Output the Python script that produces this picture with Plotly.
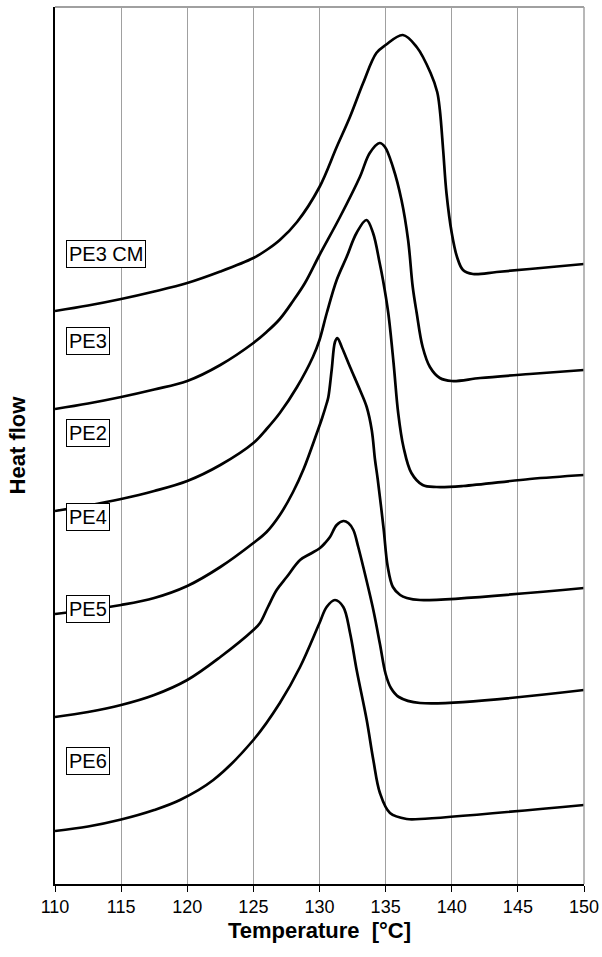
import plotly.graph_objects as go

# Temperature [°C] and heat flow (arbitrary units)
T_PE3CM = [110, 112.5, 115, 117.5, 120, 122.5, 125, 126, 127, 128.3, 130, 131.3, 132.3, 133.3, 134.3, 135.0,
           136.3, 137.35, 138.4, 138.9, 139.1, 139.35, 139.6, 140.0, 140.4, 140.85, 141.6, 143.4, 145.9, 150]
HF_PE3CM = [57.3, 57.85, 58.5, 59.25, 60.1, 61.25, 62.6, 63.4, 64.4, 66.2, 69.7, 73.7, 76.7, 80.1, 83.1, 83.9,
            84.9, 83.7, 81.1, 79.2, 77.4, 73.4, 69.1, 65.1, 62.7, 61.4, 61.0, 61.2, 61.5, 62.0]

T_PE3 = [110, 112.5, 115, 117.5, 120, 122.5, 125, 126, 127, 128, 128.9, 130, 131.55, 133.05, 133.8, 134.55,
         134.95, 135.55, 136.2, 136.7, 137.05, 137.35, 137.8, 138.35, 139.1, 140.0, 142.15, 145.9, 150]
HF_PE3 = [47.5, 48.05, 48.7, 49.45, 50.3, 51.9, 54.1, 55.2, 56.5, 58.3, 60.1, 62.9, 66.7, 70.7, 73.1, 74.1,
          73.7, 71.7, 68.4, 64.4, 59.7, 57.1, 53.7, 51.7, 50.6, 50.3, 50.6, 51.0, 51.4]

T_PE2 = [110, 112.5, 115, 117.5, 120, 122.5, 125, 126, 127, 128.3, 129.5, 130, 130.55, 131.3, 132.05, 132.8,
         133.55, 134.05, 134.55, 134.8, 135.2, 135.6, 135.95, 136.35, 136.95, 137.8, 138.85, 140.85, 145.9, 150]
HF_PE2 = [37.3, 37.85, 38.5, 39.3, 40.3, 41.9, 44.1, 45.5, 47.1, 49.7, 52.7, 54.4, 57.1, 60.4, 62.7, 65.1,
          66.4, 65.1, 62.1, 60.4, 57.1, 52.1, 47.1, 43.7, 41.1, 39.9, 39.7, 39.8, 40.5, 40.9]

T_PE4 = [110, 112.5, 115, 117.5, 120, 122.5, 125, 126, 127, 128, 128.8, 129.8, 130.2, 130.55, 130.67, 130.92,
         131.17, 131.35, 131.68, 132.31, 133.06, 133.57, 133.95, 134.2, 134.4, 134.85, 135.15, 135.55, 136.1,
         136.6, 137.6, 150]
HF_PE4 = [27.0, 27.4, 27.9, 28.6, 29.8, 31.7, 34.1, 35.2, 36.9, 39.2, 41.5, 45.1, 46.6, 48.1, 48.7, 51.4,
          54.2, 54.6, 53.7, 51.7, 49.4, 47.7, 45.4, 42.4, 40.5, 35.5, 31.8, 29.7, 28.9,
          28.6, 28.4, 29.6]

T_PE5 = [110, 112.5, 115, 117.5, 120, 122.5, 125, 125.5, 126.1, 126.76, 127.52, 128.53, 129.28, 130.04, 130.42,
         130.79, 131.3, 131.8, 132.18, 132.56, 132.93, 133.31, 134.07, 134.57, 135.0, 135.4, 136.0, 137.6, 150]
HF_PE5 = [16.7, 17.2, 17.9, 18.9, 20.4, 22.7, 25.4, 26.1, 27.7, 29.4, 30.7, 32.4, 33.0, 33.6, 34.1,
          34.7, 35.9, 36.3, 36.1, 35.4, 33.7, 31.7, 27.4, 24.0, 21.0, 19.6, 18.7, 18.1, 19.4]

T_PE6 = [110, 112.5, 115, 117.5, 119.45, 121.97, 125, 127, 128.53, 130, 130.54, 131.17, 131.8, 132.31,
         132.81, 133.57, 134.07, 134.57, 135.33, 136.6, 137.6, 150]
HF_PE6 = [5.3, 5.75, 6.45, 7.4, 8.4, 10.4, 14.4, 18.1, 21.7, 26.1, 27.7, 28.4, 27.7, 25.1,
          21.4, 16.4, 12.4, 9.1, 7.1, 6.5, 6.5, 7.9]

series = [("PE3 CM", T_PE3CM, HF_PE3CM), ("PE3", T_PE3, HF_PE3), ("PE2", T_PE2, HF_PE2),
          ("PE4", T_PE4, HF_PE4), ("PE5", T_PE5, HF_PE5), ("PE6", T_PE6, HF_PE6)]

label_names = ["PE3 CM", "PE3", "PE2", "PE4", "PE5", "PE6"]
label_y = [63.05, 54.3, 45.1, 36.7, 27.5, 12.3]

x_ticks = [110, 115, 120, 125, 130, 135, 140, 145, 150]

FONT = "Liberation Sans, Arial, sans-serif"

fig = go.Figure()
for name, t, hf in series:
    fig.add_trace(go.Scatter(x=t, y=hf, mode="lines", name=name,
                             line=dict(color="black", width=2.7, shape="spline", smoothing=1.0),
                             showlegend=False, hoverinfo="skip"))

for name, yy in zip(label_names, label_y):
    fig.add_annotation(x=110.85, y=yy, xref="x", yref="y", text=name, showarrow=False,
                       xanchor="left", yanchor="middle",
                       font=dict(family=FONT, size=20, color="black"),
                       bgcolor="white", bordercolor="black", borderwidth=1, borderpad=2)

# top and right frame (gray)
fig.add_shape(type="line", xref="paper", yref="paper", x0=0, x1=1, y0=1, y1=1,
              line=dict(color="#a0a0a0", width=2))
fig.add_shape(type="line", xref="paper", yref="paper", x0=1, x1=1, y0=0, y1=1,
              line=dict(color="#a0a0a0", width=1.5))

fig.update_layout(
    width=602, height=957,
    margin=dict(l=55, r=18, t=7, b=73, autoexpand=False),
    paper_bgcolor="white", plot_bgcolor="white",
    font=dict(family=FONT, color="black"),
)
fig.update_xaxes(range=[110, 150], tickvals=x_ticks, ticktext=[str(v) for v in x_ticks],
                 showgrid=True, gridcolor="#a0a0a0", gridwidth=1,
                 showline=True, linecolor="black", linewidth=1.5,
                 ticks="outside", ticklen=6, tickcolor="black", tickwidth=1,
                 tickfont=dict(family=FONT, size=18, color="black"),
                 title=dict(text="<b>Temperature  [°C]</b>", font=dict(family=FONT, size=22),
                            standoff=6),
                 automargin=False, zeroline=False, fixedrange=True)
fig.update_yaxes(range=[0, 87.7], showgrid=False, showticklabels=False, ticks="",
                 showline=True, linecolor="black", linewidth=2,
                 title=dict(text="<b>Heat flow</b>", font=dict(family=FONT, size=22), standoff=21),
                 automargin=False, zeroline=False, fixedrange=True)

fig.write_html("out.html", config={"displayModeBar": False},
               post_script="document.body.style.margin='0px';")
